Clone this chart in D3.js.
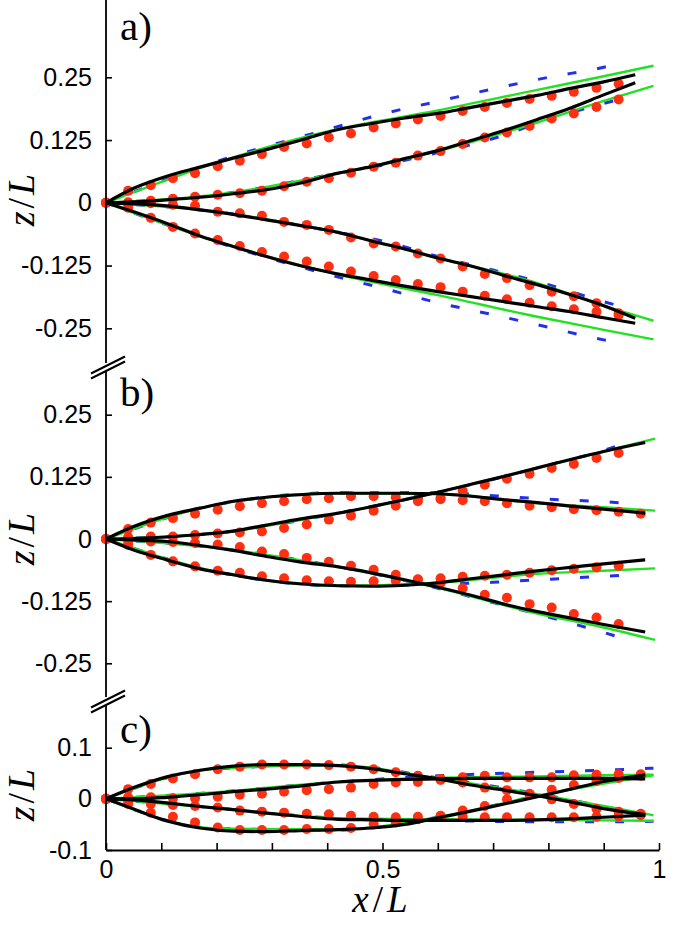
<!DOCTYPE html>
<html><head><meta charset="utf-8">
<script src="https://cdn.jsdelivr.net/npm/d3@7"></script>
<style>body{margin:0;background:#fff}</style>
</head><body><svg id="chart" width="678" height="927"></svg>
<script>
// ---------- DATA ----------
const xDot = [0,.040,.081,.121,.161,.202,.242,.282,.322,.363,.403,.443,.484,.524,.564,.605,.645,.685,.725,.766,.806,.846,.887,.927,.967];
const xTicks = [0,.1,.2,.3,.4,.5,.6,.7,.8,.9,1];
const xTickLabels = ["0","","","","","0.5","","","","","1"];
const yTicksAB = [0.25,0.125,0,-0.125,-0.25];
const yTickLabelsAB = ["0.25","0.125","0","-0.125","-0.25"];
const yTicksC = [0.1,0,-0.1];
const yTickLabelsC = ["0.1","0","-0.1"];

// Panel a
const xBlackA = [0,.05,.11,.17,.23,.29,.35,.42,.48,.54,.60,.66,.72,.78,.84,.90,.957];
const blackA = [
 [0,.029,.053,.071,.089,.106,.124,.146,.158,.169,.178,.190,.202,.214,.228,.241,.255],
 [0,.002,.006,.011,.018,.026,.039,.059,.072,.088,.104,.124,.144,.166,.189,.215,.239],
 [0,-.002,-.006,-.014,-.023,-.034,-.045,-.059,-.076,-.092,-.110,-.126,-.145,-.163,-.183,-.205,-.230],
 [0,-.018,-.041,-.066,-.087,-.107,-.125,-.142,-.154,-.166,-.177,-.187,-.197,-.207,-.217,-.229,-.240]
];
const redA = [
 [0,.024,.035,.049,.059,.073,.084,.097,.111,.118,.130,.138,.150,.158,.166,.173,.183,.191,.199,.207,.213,.221,.229,.237,null],
 [0,.001,.004,.008,.012,.016,.019,.024,.033,.042,.049,.060,.072,.080,.094,.103,.117,.130,.140,.153,.168,.178,.191,.206,null],
 [0,-.002,-.001,-.004,-.006,-.018,-.021,-.026,-.038,-.044,-.054,-.069,-.081,-.087,-.101,-.111,-.127,-.142,-.150,-.164,-.177,-.186,-.200,-.220,null],
 [0,-.010,-.030,-.048,-.061,-.074,-.086,-.098,-.107,-.117,-.127,-.137,-.146,-.154,-.162,-.168,-.177,-.185,-.192,-.199,-.206,-.212,-.217,-.224,null]
];
const xGreenA = [0,.2,.42,.6,.78,.9,.99];
const greenA = [
 [0,.080,.147,.184,.225,.252,.273],
 [0,.016,.059,.103,.160,.203,.233],
 [0,-.018,-.060,-.110,-.160,-.205,-.235],
 [0,-.077,-.143,-.184,-.227,-.253,-.272]
];
const xBlueA = [0,.2,.42,.5,.6,.7,.8,.9,.94];
const blueA = [
 [0,.082,.152,.177,.202,.227,.250,.270,.281],
 [0,.016,.059,.075,.100,.128,.166,.198,.209],
 [0,-.018,-.059,-.076,-.107,-.134,-.163,-.197,-.209],
 [0,-.078,-.148,-.170,-.199,-.223,-.248,-.273,-.281]
];

// Panel b
const xBlackB = [0,.05,.11,.17,.23,.29,.35,.42,.48,.54,.60,.66,.72,.78,.84,.90,.975];
const blackB = [
 [0,.025,.047,.062,.076,.084,.089,.092,.092,.092,.091,.086,.079,.073,.066,.060,.052],
 [0,.001,.004,.009,.016,.028,.040,.052,.065,.079,.094,.110,.126,.143,.160,.176,.194],
 [0,-.002,-.005,-.013,-.023,-.035,-.046,-.056,-.068,-.082,-.097,-.113,-.131,-.146,-.159,-.172,-.187],
 [0,-.022,-.042,-.060,-.072,-.083,-.090,-.094,-.095,-.093,-.088,-.080,-.072,-.064,-.057,-.050,-.042]
];
const redB = [
 [0,.020,.033,.042,.051,.059,.066,.072,.076,.080,.082,.086,.086,.084,.082,.080,.078,.076,.072,.067,.064,.060,.058,.055,.051],
 [0,.004,.005,.005,.008,.011,.013,.015,.022,.029,.039,.047,.057,.067,.076,.083,.097,.109,.121,.131,.143,.151,.163,.173,null],
 [0,-.004,-.005,-.006,-.008,-.011,-.016,-.025,-.030,-.038,-.046,-.054,-.062,-.072,-.081,-.089,-.099,-.112,-.118,-.131,-.138,-.151,-.158,-.171,null],
 [0,-.012,-.032,-.045,-.055,-.064,-.068,-.075,-.079,-.083,-.085,-.086,-.085,-.084,-.082,-.079,-.076,-.074,-.072,-.068,-.063,-.060,-.057,-.054,null]
];
const xGreenB = [0,.2,.42,.6,.78,.9,.993];
const greenB = [
 [0,.069,.092,.091,.072,.064,.057],
 [0,.012,.052,.094,.143,.176,.202],
 [0,-.018,-.056,-.098,-.150,-.178,-.203],
 [0,-.066,-.094,-.088,-.070,-.064,-.059]
];
const xBlueB = [0,.2,.42,.6,.7,.8,.9,.95];
const blueB = [
 [0,.069,.093,.093,.087,.080,.075,.071],
 [0,.012,.052,.094,.120,.149,.178,.198],
 [0,-.018,-.056,-.099,-.128,-.157,-.188,-.205],
 [0,-.066,-.094,-.091,-.087,-.081,-.075,-.072]
];

// Panel c
const xBlackC = [0,.05,.11,.17,.23,.29,.35,.42,.48,.54,.60,.66,.72,.78,.84,.90,.975];
const blackC = [
 [0,.022,.043,.056,.064,.067,.067,.065,.059,.049,.039,.027,.017,.006,-.006,-.019,-.031],
 [0,.000,.003,.008,.014,.019,.025,.033,.036,.038,.039,.040,.040,.040,.040,.040,.039],
 [0,-.002,-.008,-.015,-.021,-.028,-.034,-.040,-.041,-.042,-.042,-.042,-.042,-.041,-.039,-.036,-.032],
 [0,-.020,-.043,-.057,-.063,-.064,-.062,-.060,-.057,-.050,-.037,-.024,-.010,.004,.019,.034,.047]
];
const redC = [
 [0,.019,.029,.040,.048,.058,.063,.067,.067,.067,.066,.063,.058,.052,.045,.039,.032,.022,.017,.008,-.001,-.010,-.020,-.025,-.029],
 [0,.003,.003,.001,.001,.004,.008,.010,.014,.017,.019,.022,.029,.032,.033,.037,.042,.045,.042,.042,.042,.046,.047,.048,.048],
 [0,-.004,-.010,-.012,-.014,-.017,-.023,-.025,-.027,-.029,-.030,-.033,-.035,-.036,-.035,-.034,-.035,-.036,-.036,-.036,-.036,-.036,-.035,-.034,-.032],
 [0,-.010,-.027,-.035,-.046,-.056,-.061,-.061,-.061,-.059,-.059,-.057,-.049,-.046,-.040,-.033,-.023,-.014,-.001,.010,.018,.027,.035,.041,.045]
];
const xGreenC = [0,.2,.42,.6,.78,.9,.99];
const greenC = [
 [0,.059,.066,.040,.009,-.014,-.032],
 [0,.013,.033,.041,.044,.046,.047],
 [0,-.018,-.038,-.040,-.041,-.042,-.043],
 [0,-.058,-.060,-.036,.006,.030,.046]
];
const xBlueC = [0,.2,.42,.6,.78,.9,.99];
const blueC = [
 [0,.059,.066,.041,.010,-.015,-.034],
 [0,.013,.033,.045,.052,.056,.060],
 [0,-.018,-.038,-.042,-.045,-.045,-.044],
 [0,-.058,-.061,-.036,.006,.032,.050]
];

// ---------- DRAW ----------
const svg = d3.select('#chart');
svg.append('rect').attr('width',678).attr('height',927).attr('fill','#fff');
const x = d3.scaleLinear().domain([0,1]).range([106,659]);

const RED = '#ff3011', GREEN = '#22e022', BLUE = '#2430e8';
const panels = [
 {lab:'a)', labY:40, dom:[-0.25,0.25], rng:[328.3,77.3], tv:yTicksAB, tl:yTickLabelsAB,
  xb:xBlackA, bk:blackA, rd:redA, xg:xGreenA, gr:greenA, xu:xBlueA, bu:blueA, axTop:0, axBot:363, zy:200},
 {lab:'b)', labY:406, dom:[-0.25,0.25], rng:[663.3,414.7], tv:yTicksAB, tl:yTickLabelsAB,
  xb:xBlackB, bk:blackB, rd:redB, xg:xGreenB, gr:greenB, xu:xBlueB, bu:blueB, axTop:372, axBot:697, zy:539},
 {lab:'c)', labY:743, dom:[-0.1,0.1], rng:[850,747.7], tv:yTicksC, tl:yTickLabelsC,
  xb:xBlackC, bk:blackC, rd:redC, xg:xGreenC, gr:greenC, xu:xBlueC, bu:blueC, axTop:706, axBot:850, zy:795}
];

panels.forEach(p => {
  const y = d3.scaleLinear().domain(p.dom).range(p.rng);
  const g = svg.append('g');
  const mk = xs => d3.line().x((d,i)=>x(xs[i])).y(d=>y(d)).curve(d3.curveMonotoneX);
  // blue dashed
  p.bu.forEach(s => g.append('path').attr('d', mk(p.xu)(s)).attr('fill','none')
     .attr('stroke',BLUE).attr('stroke-width',3).attr('stroke-dasharray','9,21'));
  // green
  p.gr.forEach(s => g.append('path').attr('d', mk(p.xg)(s)).attr('fill','none')
     .attr('stroke',GREEN).attr('stroke-width',2.4));
  // red dots
  p.rd.forEach(s => {
    g.selectAll(null).data(s.map((v,i)=>({x:xDot[i], z:v})).filter(d=>d.z!==null))
      .enter().append('circle').attr('cx',d=>x(d.x)).attr('cy',d=>y(d.z)).attr('r',5).attr('fill',RED);
  });
  // black model
  p.bk.forEach(s => g.append('path').attr('d', mk(p.xb)(s)).attr('fill','none')
     .attr('stroke','#000').attr('stroke-width',3.2));

  // y axis ticks
  const ax = d3.axisLeft(y).tickValues(p.tv).tickFormat((d,i)=>p.tl[i]).tickSizeInner(-6).tickSizeOuter(0).tickPadding(14);
  const ag = svg.append('g').attr('transform','translate(106,0)').call(ax);
  ag.select('.domain').remove();
  ag.selectAll('line').attr('stroke','#000').attr('stroke-width',1.6);
  ag.selectAll('text').attr('font-family','"Liberation Sans", Arial, Helvetica, sans-serif').attr('font-size',25).attr('fill','#000');
  // axis line segment
  svg.append('line').attr('x1',106).attr('x2',106).attr('y1',p.axTop).attr('y2',p.axBot).attr('stroke','#000').attr('stroke-width',1.8);

  // panel label
  svg.append('text').attr('x',120).attr('y',p.labY).text(p.lab)
    .attr('font-family','"Liberation Serif", "Times New Roman", serif').attr('font-size',41).attr('fill','#000');

  // z/L label
  const t = svg.append('text').attr('transform',`translate(34,${p.zy}) rotate(-90)`).attr('text-anchor','middle')
    .attr('font-family','"Liberation Serif", "Times New Roman", serif').attr('font-size',38).attr('fill','#000');
  t.append('tspan').attr('font-style','italic').text('z');
  t.append('tspan').attr('dx',3).text('/');
  t.append('tspan').attr('dx',3).attr('font-style','italic').text('L');
});

// break marks
[367.5, 701.5].forEach(yc => {
  const g = svg.append('g');
  g.append('polygon').attr('points',`91,${yc+8.5-2.5} 125,${yc-8.5-2.5} 125,${yc-8.5+2.5} 91,${yc+8.5+2.5}`).attr('fill','#fff');
  [-2.5,2.5].forEach(o => g.append('line').attr('x1',91).attr('y1',yc+8.5+o).attr('x2',125).attr('y2',yc-8.5+o)
     .attr('stroke','#000').attr('stroke-width',2));
});

// x axis (bottom of panel c)
const yC = 850;
const xa = d3.axisBottom(x).tickValues(xTicks).tickFormat((d,i)=>xTickLabels[i]).tickSizeInner(-7).tickSizeOuter(0).tickPadding(10);
const xg = svg.append('g').attr('transform',`translate(0,${yC})`).call(xa);
xg.select('.domain').attr('stroke','#000').attr('stroke-width',1.8);
xg.selectAll('line').attr('stroke','#000').attr('stroke-width',1.6);
xg.selectAll('text').attr('font-family','"Liberation Sans", Arial, Helvetica, sans-serif').attr('font-size',25).attr('fill','#000');

// x/L label
const xt = svg.append('text').attr('x',380).attr('y',912).attr('text-anchor','middle')
  .attr('font-family','"Liberation Serif", "Times New Roman", serif').attr('font-size',37).attr('fill','#000');
xt.append('tspan').attr('font-style','italic').text('x');
xt.append('tspan').attr('dx',4).text('/');
xt.append('tspan').attr('dx',4).attr('font-style','italic').text('L');
</script>
</body></html>
